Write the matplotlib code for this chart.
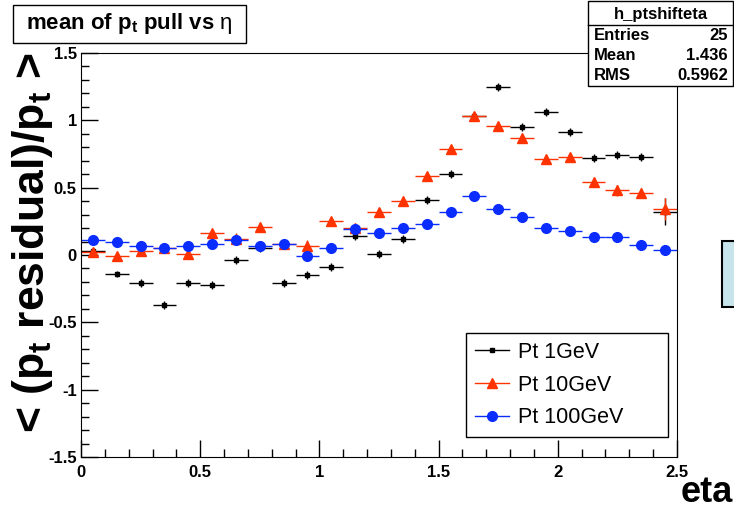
import numpy as np
import matplotlib
matplotlib.use("Agg")
import matplotlib.pyplot as plt
from matplotlib.patches import Rectangle
from matplotlib.lines import Line2D
from matplotlib.ticker import MultipleLocator

plt.rcParams['font.family'] = ['Liberation Sans', 'DejaVu Sans']
plt.rcParams['mathtext.fontset'] = 'custom'
plt.rcParams['mathtext.rm'] = 'Liberation Sans'
plt.rcParams['mathtext.bf'] = 'Liberation Sans:bold'
plt.rcParams['mathtext.it'] = 'Liberation Sans:italic'

# eta bins (25 bins of 0.1)
eta = np.arange(0.05, 2.5, 0.1)

pt1 = [0.03, -0.14, -0.21, -0.37, -0.21, -0.22, -0.04, 0.05, -0.21, -0.15,
       -0.09, 0.14, 0.01, 0.12, 0.41, 0.60, 1.03, 1.25, 0.95, 1.06,
       0.91, 0.72, 0.74, 0.73, 0.32]
pt1_err = [0.02, 0.02, 0.03, 0.03, 0.03, 0.03, 0.03, 0.03, 0.03, 0.03,
           0.03, 0.03, 0.03, 0.03, 0.03, 0.03, 0.03, 0.03, 0.03, 0.03,
           0.03, 0.03, 0.03, 0.03, 0.10]

pt10 = [0.02, -0.01, 0.03, 0.05, 0.01, 0.16, 0.12, 0.21, 0.08, 0.07,
        0.25, 0.20, 0.32, 0.40, 0.59, 0.79, 1.03, 0.96, 0.87, 0.71,
        0.73, 0.54, 0.48, 0.46, 0.34]
pt10_err = [0.03, 0.02, 0.02, 0.02, 0.02, 0.02, 0.04, 0.03, 0.02, 0.04,
            0.03, 0.02, 0.03, 0.03, 0.03, 0.03, 0.03, 0.03, 0.03, 0.03,
            0.03, 0.03, 0.04, 0.04, 0.08]

pt100 = [0.11, 0.10, 0.065, 0.055, 0.065, 0.08, 0.11, 0.07, 0.085, -0.01,
         0.05, 0.19, 0.16, 0.20, 0.23, 0.32, 0.44, 0.34, 0.28, 0.20,
         0.18, 0.135, 0.13, 0.075, 0.035]
pt100_err = [0.02] * 25

labels = ['Pt 1GeV', 'Pt 10GeV', 'Pt 100GeV']
xticks = [0, 0.5, 1, 1.5, 2, 2.5]
xticklabels = ['0', '0.5', '1', '1.5', '2', '2.5']
yticks = [-1.5, -1, -0.5, 0, 0.5, 1, 1.5]
yticklabels = ['-1.5', '-1', '-0.5', '0', '0.5', '1', '1.5']

W, H = 734, 507
fig = plt.figure(figsize=(W / 100, H / 100), dpi=100)
L, R, T, B = 81, 677, 53, 457
ax = fig.add_axes([L / W, (H - B) / H, (R - L) / W, (B - T) / H])

red = '#ff3300'
blue = '#0a2cff'
styles = [('s', 'black', 3), ('^', red, 7), ('o', blue, 7)]
series = [(pt1, pt1_err), (pt10, pt10_err), (pt100, pt100_err)]
handles = []
for (m, c, ms), (y, e), lab in zip(styles, series, labels):
    ax.errorbar(eta, y, xerr=0.05, yerr=e, fmt=m, color=c, ms=ms, lw=1,
                capsize=0)
    handles.append(Line2D([], [], color=c, marker=m, ms=ms, lw=1, label=lab))

ax.set_xlim(0, 2.5)
ax.set_ylim(-1.5, 1.5)
ax.set_xticks(xticks, xticklabels)
ax.set_yticks(yticks, yticklabels)
ax.xaxis.set_minor_locator(MultipleLocator(0.1))
ax.yaxis.set_minor_locator(MultipleLocator(0.1))
ax.tick_params(which='both', direction='in', top=False, right=False, width=1)
ax.tick_params(which='major', length=12)
ax.tick_params(which='minor', length=6)
ax.tick_params(axis='y', pad=3)
ax.tick_params(axis='x', pad=6)
for lab in ax.get_xticklabels() + ax.get_yticklabels():
    lab.set_fontweight('bold')
    lab.set_fontsize(12)

leg = ax.legend(handles=handles, loc='lower left', mode='expand',
                bbox_to_anchor=(466 / W, (H - 437) / H, 202 / W, 106 / H),
                bbox_transform=fig.transFigure, fontsize=15.5, frameon=True,
                fancybox=False, edgecolor='black', framealpha=1,
                handlelength=1.6, handletextpad=0.4, labelspacing=0.55,
                borderpad=0.4, borderaxespad=0)
leg.get_frame().set_linewidth(1)

# axis titles
fig.text(33 / W, 1 - 53 / H, r'< (p$_{\mathbf{t}}$ residual)/p$_{\mathbf{t}}$ >',
         rotation=90, ha='center', va='top', fontsize=32, fontweight='bold')
fig.text(733 / W, 1 - 502 / H, 'eta', ha='right', va='baseline',
         fontsize=26, fontweight='bold')

# title box
fig.patches.append(Rectangle((13 / W, 1 - 43 / H), 233 / W, 38 / H,
                             transform=fig.transFigure, fill=True,
                             facecolor='white', edgecolor='black', lw=1))
fig.text(129 / W, 1 - 24 / H, r'mean of p$_{\mathbf{t}}$ pull vs $\mathrm{\eta}$',
         ha='center', va='center', fontsize=16, fontweight='bold')

# stats box
fig.patches.append(Rectangle((588 / W, 1 - 86 / H), 145 / W, 85 / H,
                             transform=fig.transFigure, facecolor='white',
                             edgecolor='black', lw=1, zorder=5))
fig.lines.append(Line2D([588 / W, 733 / W], [1 - 25 / H, 1 - 25 / H],
                        transform=fig.transFigure, color='black', lw=1,
                        zorder=6))
fig.text(661 / W, 1 - 14 / H, 'h_ptshifteta', ha='center', va='center',
         fontsize=12, fontweight='bold', zorder=7)
stat_names = ['Entries', 'Mean', 'RMS']
stat_vals = ['25', '1.436', '0.5962']
for i, (n, v) in enumerate(zip(stat_names, stat_vals)):
    yy = 1 - (35 + 20.5 * i) / H
    fig.text(594 / W, yy, n, ha='left', va='center', fontsize=12,
             fontweight='bold', zorder=7)
    fig.text(728 / W, yy, v, ha='right', va='center', fontsize=12,
             fontweight='bold', zorder=7)

# partial box at right edge
fig.patches.append(Rectangle((722 / W, 1 - 307 / H), 20 / W, 66 / H,
                             transform=fig.transFigure, facecolor='#c6e4e9',
                             edgecolor='black', lw=1.5))

fig.savefig('out.png', dpi=100)
